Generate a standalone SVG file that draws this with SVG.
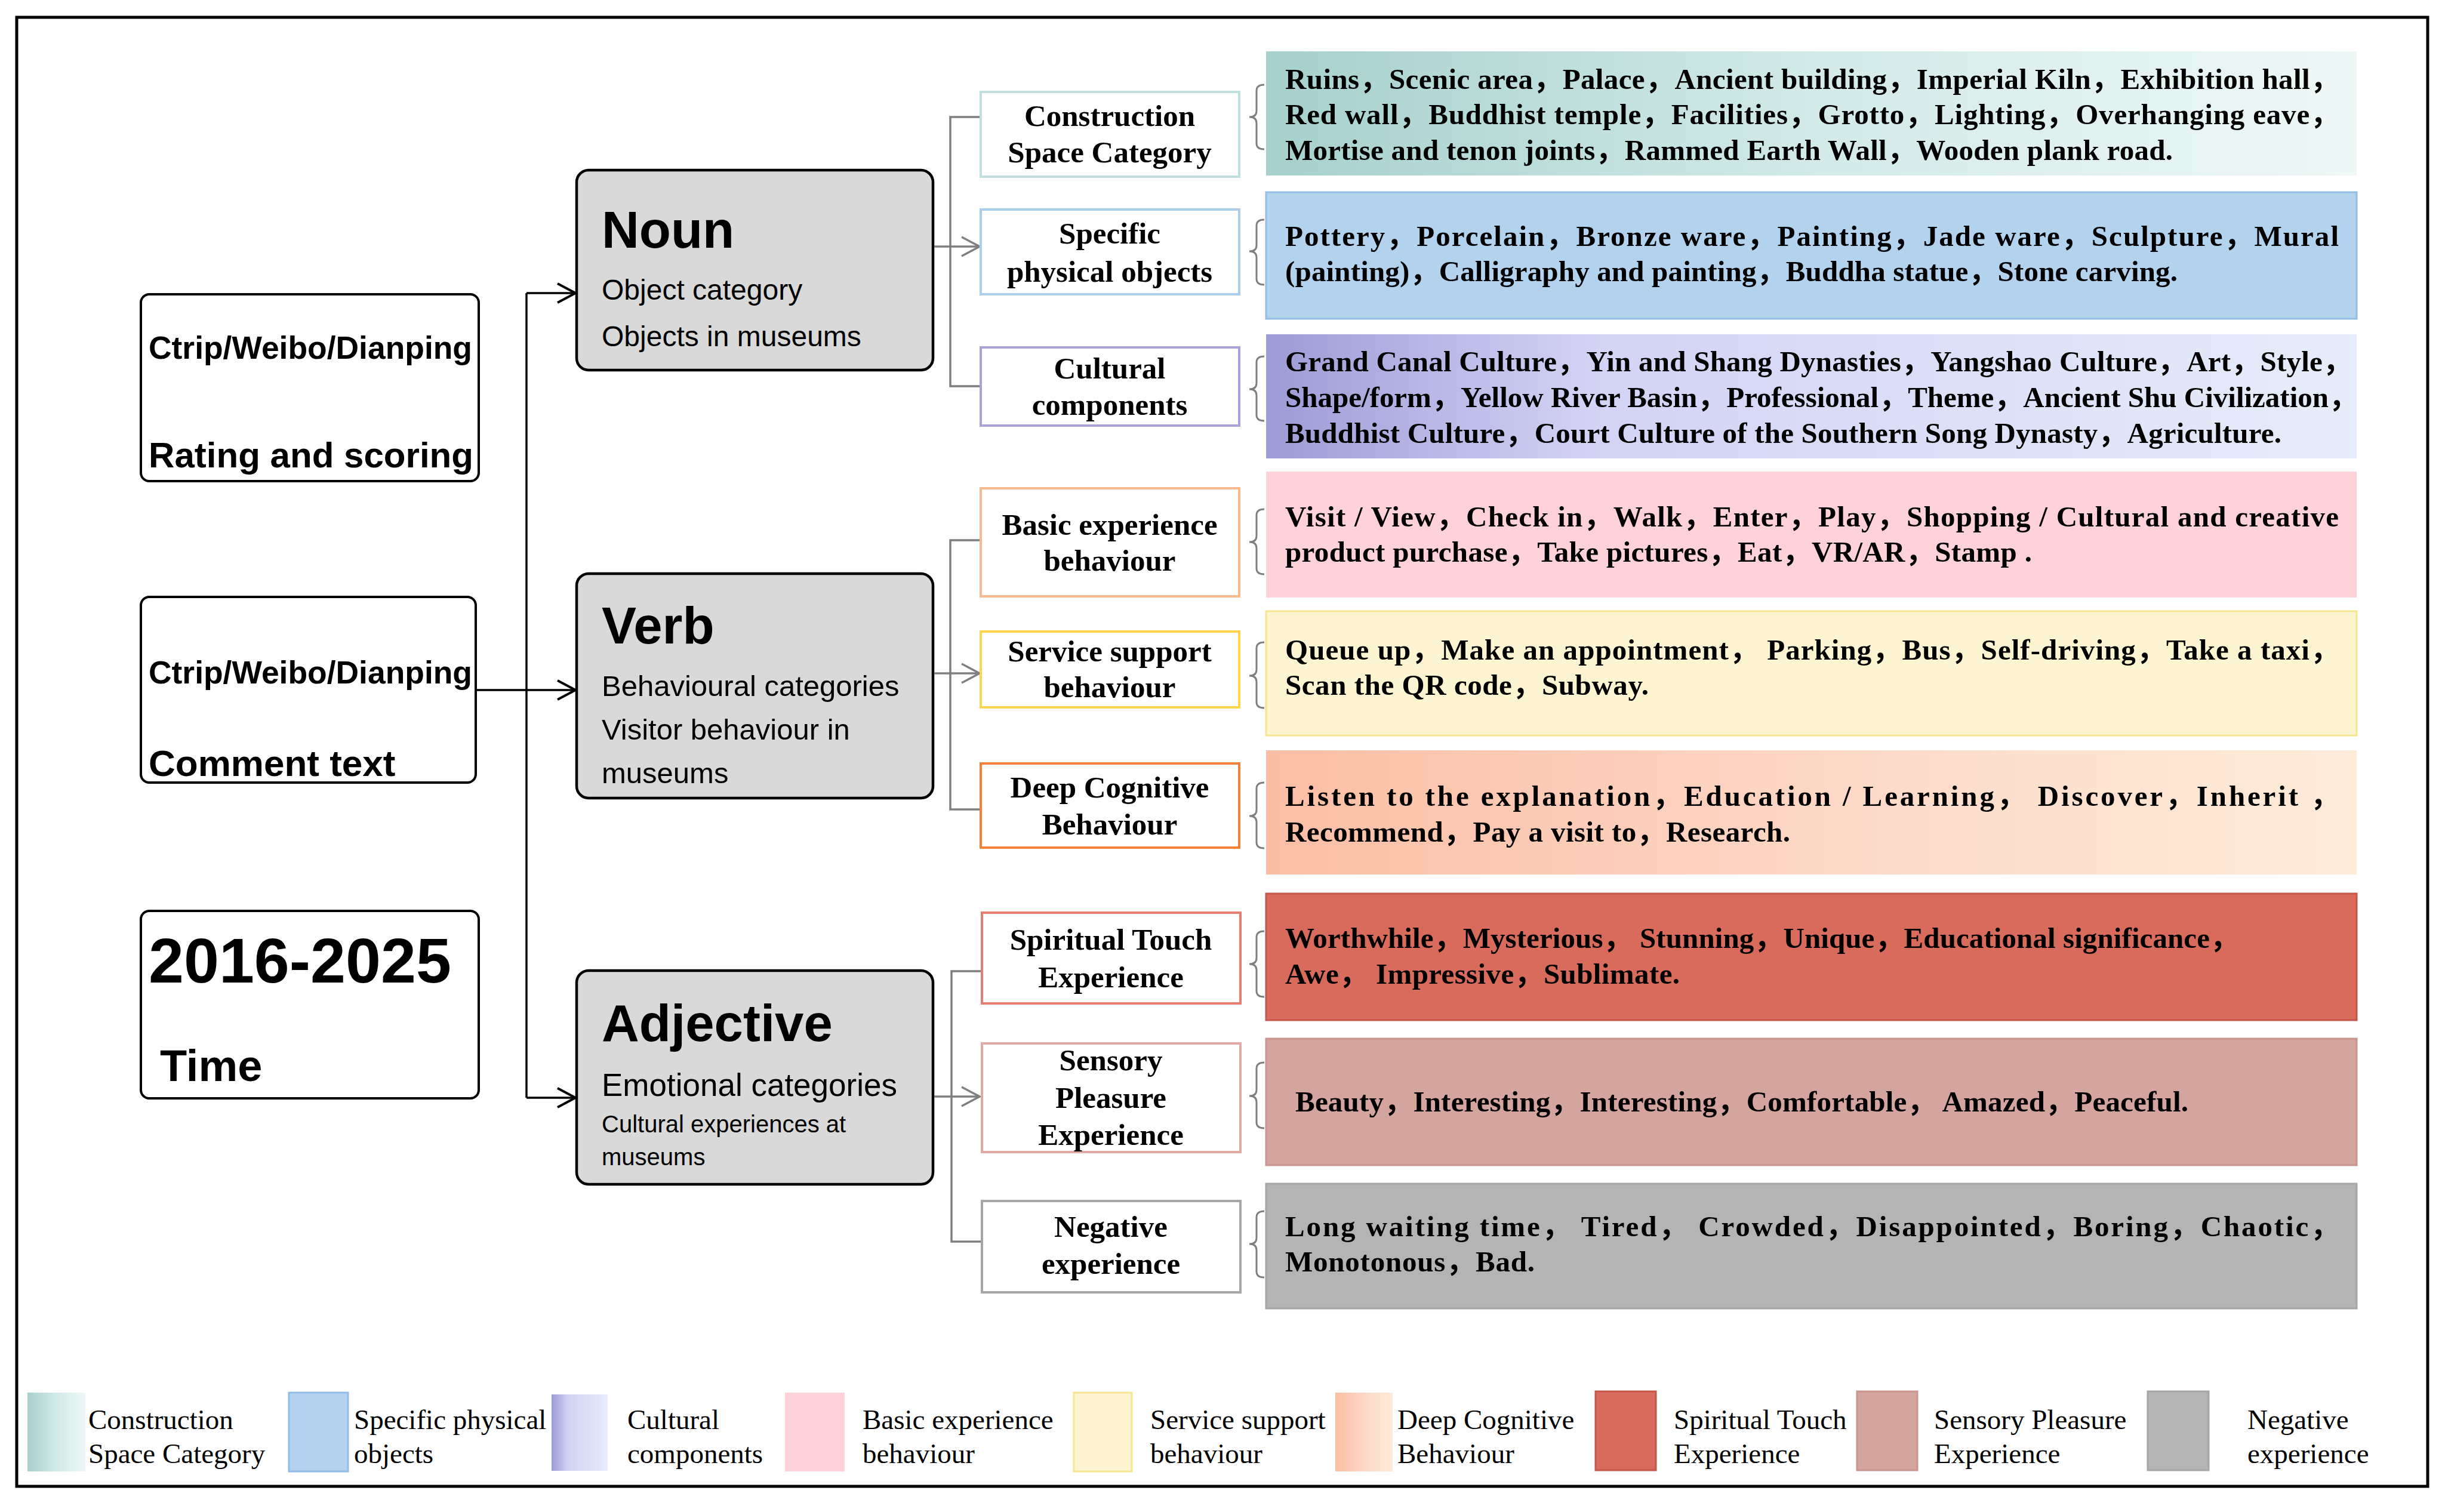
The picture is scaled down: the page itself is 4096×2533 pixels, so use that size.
<svg xmlns="http://www.w3.org/2000/svg" width="4096" height="2533" viewBox="0 0 4096 2533" xml:space="preserve">
<style>
.frame{fill:none;stroke:#000;stroke-width:5}
.src{fill:#fff;stroke:#000;stroke-width:4}
.pos{fill:#d9d9d9;stroke:#000;stroke-width:4.5}
.sb{font-family:"Liberation Sans",Arial,sans-serif;font-weight:bold;fill:#000}
.sr{font-family:"Liberation Sans",Arial,sans-serif;fill:#000}
.br{fill:#fff;stroke-width:4}
.bt{font-family:"Liberation Serif","Times New Roman",serif;font-weight:bold;font-size:51px;text-anchor:middle;fill:#000}
.ct{font-family:"Liberation Serif","Times New Roman","Noto Sans CJK SC",serif;font-weight:bold;font-size:49px;fill:#000}
.lg{font-family:"Liberation Serif","Times New Roman",serif;font-size:47px;fill:#000}
.gc{fill:none;stroke:#7f7f7f;stroke-width:3.5}
.bc{fill:none;stroke:#000;stroke-width:3.5}
.brace{fill:none;stroke:#7f7f7f;stroke-width:3}
</style>
<defs>
<marker id="ab" markerUnits="userSpaceOnUse" markerWidth="34" markerHeight="36" viewBox="0 0 34 36" refX="32" refY="18" orient="auto"><path d="M2,2 L32,18 L2,34" fill="none" stroke="#000" stroke-width="4"/></marker>
<marker id="ag" markerUnits="userSpaceOnUse" markerWidth="34" markerHeight="36" viewBox="0 0 34 36" refX="32" refY="18" orient="auto"><path d="M2,2 L32,18 L2,34" fill="none" stroke="#7f7f7f" stroke-width="3.5"/></marker>
<linearGradient id="gTeal" x1="0" y1="0" x2="1" y2="0"><stop offset="0" stop-color="#a6d0cd"/><stop offset="0.5" stop-color="#d2eae8"/><stop offset="1" stop-color="#eef8f7"/></linearGradient>
<linearGradient id="gPurple" x1="0" y1="0" x2="1" y2="0"><stop offset="0" stop-color="#9d9bd6"/><stop offset="0.3" stop-color="#d3d3f5"/><stop offset="1" stop-color="#e6edf9"/></linearGradient>
<linearGradient id="gPeach" x1="0" y1="0" x2="1" y2="0"><stop offset="0" stop-color="#fbbea5"/><stop offset="0.6" stop-color="#fddccb"/><stop offset="1" stop-color="#feebd9"/></linearGradient>
</defs>
<rect x="0" y="0" width="4096" height="2533" fill="#fff"/>
<rect class="frame" x="28" y="29" width="4039" height="2461"/>

<g id="src-rating">
<rect class="src" x="236" y="493" width="566" height="313" rx="14"/>
<text class="sb" x="249" y="601" font-size="54" textLength="542" lengthAdjust="spacingAndGlyphs">Ctrip/Weibo/Dianping</text>
<text class="sb" x="249" y="783" font-size="60" textLength="544" lengthAdjust="spacingAndGlyphs">Rating and scoring</text>
</g>
<g id="src-comment">
<rect class="src" x="236" y="1000" width="561" height="311" rx="14"/>
<text class="sb" x="249" y="1145" font-size="54" textLength="542" lengthAdjust="spacingAndGlyphs">Ctrip/Weibo/Dianping</text>
<text class="sb" x="249" y="1300" font-size="62">Comment text</text>
</g>
<g id="src-time">
<rect class="src" x="236" y="1526" width="566" height="314" rx="14"/>
<text class="sb" x="249" y="1646" font-size="106">2016-2025</text>
<text class="sb" x="268" y="1811" font-size="74">Time</text>
</g>

<g id="noun">
<rect class="pos" x="966" y="285" width="597" height="335" rx="20"/>
<text class="sb" x="1008" y="415" font-size="87">Noun</text>
<text class="sr" x="1008" y="502" font-size="48">Object category</text>
<text class="sr" x="1008" y="580" font-size="48">Objects in museums</text>
</g>
<g id="verb">
<rect class="pos" x="966" y="961" width="597" height="376" rx="20"/>
<text class="sb" x="1008" y="1078" font-size="87">Verb</text>
<text class="sr" x="1008" y="1166" font-size="49">Behavioural categories</text>
<text class="sr" x="1008" y="1239" font-size="49">Visitor behaviour in</text>
<text class="sr" x="1008" y="1312" font-size="49">museums</text>
</g>
<g id="adjective">
<rect class="pos" x="966" y="1626" width="597" height="358" rx="20"/>
<text class="sb" x="1008" y="1744" font-size="87">Adjective</text>
<text class="sr" x="1008" y="1836" font-size="53">Emotional categories</text>
<text class="sr" x="1008" y="1897" font-size="40">Cultural experiences at</text>
<text class="sr" x="1008" y="1952" font-size="40">museums</text>
</g>

<g id="connectors">
<path class="bc" d="M882,491 L882,1839"/>
<path class="bc" d="M882,491 L964,491" marker-end="url(#ab)"/>
<path class="bc" d="M797,1156 L964,1156" marker-end="url(#ab)"/>
<path class="bc" d="M882,1839 L964,1839" marker-end="url(#ab)"/>
<path class="gc" d="M1643,196 L1592,196 L1592,647 L1643,647"/>
<path class="gc" d="M1565,413 L1641,413" marker-end="url(#ag)"/>
<path class="gc" d="M1643,905 L1592,905 L1592,1356 L1643,1356"/>
<path class="gc" d="M1565,1128 L1641,1128" marker-end="url(#ag)"/>
<path class="gc" d="M1643,1627 L1594,1627 L1594,2080 L1643,2080"/>
<path class="gc" d="M1565,1837 L1641,1837" marker-end="url(#ag)"/>
<path class="brace" d="M2118,142 Q2105,142 2105,152 L2105,186 Q2105,196 2093,196 Q2105,196 2105,206 L2105,240 Q2105,250 2118,250"/>
<path class="brace" d="M2118,368 Q2105,368 2105,378 L2105,411 Q2105,421 2093,421 Q2105,421 2105,431 L2105,467 Q2105,477 2118,477"/>
<path class="brace" d="M2118,597 Q2105,597 2105,607 L2105,642 Q2105,652 2093,652 Q2105,652 2105,662 L2105,695 Q2105,705 2118,705"/>
<path class="brace" d="M2118,853 Q2105,853 2105,863 L2105,898 Q2105,908 2093,908 Q2105,908 2105,918 L2105,952 Q2105,962 2118,962"/>
<path class="brace" d="M2118,1076 Q2105,1076 2105,1086 L2105,1122 Q2105,1132 2093,1132 Q2105,1132 2105,1142 L2105,1176 Q2105,1186 2118,1186"/>
<path class="brace" d="M2118,1311 Q2105,1311 2105,1321 L2105,1357 Q2105,1367 2093,1367 Q2105,1367 2105,1377 L2105,1411 Q2105,1421 2118,1421"/>
<path class="brace" d="M2118,1560 Q2105,1560 2105,1570 L2105,1605 Q2105,1615 2093,1615 Q2105,1615 2105,1625 L2105,1660 Q2105,1670 2118,1670"/>
<path class="brace" d="M2118,1780 Q2105,1780 2105,1790 L2105,1826 Q2105,1836 2093,1836 Q2105,1836 2105,1846 L2105,1880 Q2105,1890 2118,1890"/>
<path class="brace" d="M2118,2029 Q2105,2029 2105,2039 L2105,2074 Q2105,2084 2093,2084 Q2105,2084 2105,2094 L2105,2130 Q2105,2140 2118,2140"/>
</g>

<g id="b-construction">
<rect class="br" x="1643" y="154" width="433" height="142" stroke="#bfe0df"/>
<text class="bt" x="1859" y="211">Construction</text>
<text class="bt" x="1859" y="272">Space Category</text>
</g>
<g id="b-specific">
<rect class="br" x="1643" y="351" width="433" height="142" stroke="#a9cdea"/>
<text class="bt" x="1859" y="408">Specific</text>
<text class="bt" x="1859" y="472">physical objects</text>
</g>
<g id="b-cultural">
<rect class="br" x="1643" y="582" width="433" height="131" stroke="#aaa2d6"/>
<text class="bt" x="1859" y="634">Cultural</text>
<text class="bt" x="1859" y="695">components</text>
</g>
<g id="b-basic">
<rect class="br" x="1643" y="818" width="433" height="181" stroke="#f9b990"/>
<text class="bt" x="1859" y="896">Basic experience</text>
<text class="bt" x="1859" y="956">behaviour</text>
</g>
<g id="b-service">
<rect class="br" x="1643" y="1058" width="433" height="127" stroke="#fdd64e"/>
<text class="bt" x="1859" y="1108">Service support</text>
<text class="bt" x="1859" y="1168">behaviour</text>
</g>
<g id="b-deep">
<rect class="br" x="1643" y="1279" width="433" height="141" stroke="#f4813a"/>
<text class="bt" x="1859" y="1336">Deep Cognitive</text>
<text class="bt" x="1859" y="1398">Behaviour</text>
</g>
<g id="b-spiritual">
<rect class="br" x="1645" y="1529" width="433" height="152" stroke="#e67d70"/>
<text class="bt" x="1861" y="1591">Spiritual Touch</text>
<text class="bt" x="1861" y="1654">Experience</text>
</g>
<g id="b-sensory">
<rect class="br" x="1645" y="1748" width="433" height="182" stroke="#e0aaa5"/>
<text class="bt" x="1861" y="1793">Sensory</text>
<text class="bt" x="1861" y="1856">Pleasure</text>
<text class="bt" x="1861" y="1918">Experience</text>
</g>
<g id="b-negative">
<rect class="br" x="1645" y="2012" width="433" height="153" stroke="#a6a6a6"/>
<text class="bt" x="1861" y="2072">Negative</text>
<text class="bt" x="1861" y="2134">experience</text>
</g>

<g id="c-construction">
<rect x="2121" y="86" width="1827" height="208" fill="url(#gTeal)"/>
<text class="ct" x="2153" y="149" textLength="1766" lengthAdjust="spacing">Ruins，Scenic area，Palace，Ancient building，Imperial Kiln，Exhibition hall，</text>
<text class="ct" x="2153" y="208" textLength="1766" lengthAdjust="spacing">Red wall，Buddhist temple，Facilities，Grotto，Lighting，Overhanging eave，</text>
<text class="ct" x="2153" y="268" textLength="1487" lengthAdjust="spacing">Mortise and tenon joints，Rammed Earth Wall，Wooden plank road.</text>
</g>
<g id="c-specific">
<rect x="2121" y="322" width="1827" height="212" fill="#b3d2ee" stroke="#93bde4" stroke-width="3"/>
<text class="ct" x="2153" y="412" textLength="1765" lengthAdjust="spacing">Pottery，Porcelain，Bronze ware，Painting，Jade ware，Sculpture，Mural</text>
<text class="ct" x="2153" y="471" textLength="1495" lengthAdjust="spacing">(painting)，Calligraphy and painting，Buddha statue，Stone carving.</text>
</g>
<g id="c-cultural">
<rect x="2121" y="560" width="1827" height="208" fill="url(#gPurple)"/>
<text class="ct" x="2153" y="622" textLength="1787" lengthAdjust="spacing">Grand Canal Culture，Yin and Shang Dynasties，Yangshao Culture，Art，Style，</text>
<text class="ct" x="2153" y="682" textLength="1797" lengthAdjust="spacing">Shape/form，Yellow River Basin，Professional，Theme，Ancient Shu Civilization，</text>
<text class="ct" x="2153" y="742" textLength="1669" lengthAdjust="spacing">Buddhist Culture，Court Culture of the Southern Song Dynasty，Agriculture.</text>
</g>
<g id="c-basic">
<rect x="2121" y="790" width="1827" height="211" fill="#ffd2da"/>
<text class="ct" x="2153" y="882" textLength="1765" lengthAdjust="spacing">Visit / View，Check in，Walk，Enter，Play，Shopping / Cultural and creative</text>
<text class="ct" x="2153" y="941" textLength="1251" lengthAdjust="spacing">product purchase，Take pictures，Eat，VR/AR，Stamp .</text>
</g>
<g id="c-service">
<rect x="2121" y="1024" width="1827" height="208" fill="#fdf4d2" stroke="#f6e48e" stroke-width="3"/>
<text class="ct" x="2153" y="1105" textLength="1766" lengthAdjust="spacing">Queue up，Make an appointment，  Parking，Bus，Self-driving，Take a taxi，</text>
<text class="ct" x="2153" y="1164" textLength="609" lengthAdjust="spacing">Scan the QR code，Subway.</text>
</g>
<g id="c-deep">
<rect x="2121" y="1257" width="1827" height="208" fill="url(#gPeach)"/>
<text class="ct" x="2153" y="1350" textLength="1766" lengthAdjust="spacing">Listen to the explanation，Education / Learning，  Discover，Inherit ，</text>
<text class="ct" x="2153" y="1410" textLength="846" lengthAdjust="spacing">Recommend，Pay a visit to，Research.</text>
</g>
<g id="c-spiritual">
<rect x="2121" y="1497" width="1827" height="212" fill="#d96b5c" stroke="#c7564a" stroke-width="3"/>
<text class="ct" x="2153" y="1588" textLength="1598" lengthAdjust="spacing">Worthwhile，Mysterious，  Stunning，Unique，Educational significance，</text>
<text class="ct" x="2153" y="1648" textLength="661" lengthAdjust="spacing">Awe，  Impressive，Sublimate.</text>
</g>
<g id="c-sensory">
<rect x="2121" y="1740" width="1827" height="212" fill="#d4a49e" stroke="#c8968f" stroke-width="3"/>
<text class="ct" x="2170" y="1862" textLength="1496" lengthAdjust="spacing">Beauty，Interesting，Interesting，Comfortable，  Amazed，Peaceful.</text>
</g>
<g id="c-negative">
<rect x="2121" y="1983" width="1827" height="209" fill="#b4b4b4" stroke="#a6a6a6" stroke-width="3"/>
<text class="ct" x="2153" y="2071" textLength="1766" lengthAdjust="spacing">Long waiting time，  Tired，  Crowded，Disappointed，Boring，Chaotic，</text>
<text class="ct" x="2153" y="2130" textLength="418" lengthAdjust="spacing">Monotonous，Bad.</text>
</g>

<g id="legend">
<rect x="46" y="2333" width="97" height="132" fill="url(#gTeal)"/>
<text class="lg" x="148" y="2394">Construction</text>
<text class="lg" x="148" y="2451">Space Category</text>
<rect x="484" y="2333" width="99" height="132" fill="#b3d2ee" stroke="#93bde4" stroke-width="3"/>
<text class="lg" x="593" y="2394">Specific physical</text>
<text class="lg" x="593" y="2451">objects</text>
<rect x="924" y="2336" width="94" height="128" fill="url(#gPurple)"/>
<text class="lg" x="1051" y="2394">Cultural</text>
<text class="lg" x="1051" y="2451">components</text>
<rect x="1315" y="2333" width="100" height="132" fill="#ffd2da"/>
<text class="lg" x="1445" y="2394">Basic experience</text>
<text class="lg" x="1445" y="2451">behaviour</text>
<rect x="1799" y="2333" width="97" height="132" fill="#fdf4d2" stroke="#f6e48e" stroke-width="3"/>
<text class="lg" x="1927" y="2394">Service support</text>
<text class="lg" x="1927" y="2451">behaviour</text>
<rect x="2237" y="2333" width="96" height="132" fill="url(#gPeach)"/>
<text class="lg" x="2341" y="2394">Deep Cognitive</text>
<text class="lg" x="2341" y="2451">Behaviour</text>
<rect x="2673" y="2331" width="101" height="132" fill="#d96b5c" stroke="#c7564a" stroke-width="3"/>
<text class="lg" x="2804" y="2394">Spiritual Touch</text>
<text class="lg" x="2804" y="2451">Experience</text>
<rect x="3111" y="2331" width="101" height="132" fill="#d4a49e" stroke="#c8968f" stroke-width="3"/>
<text class="lg" x="3240" y="2394">Sensory Pleasure</text>
<text class="lg" x="3240" y="2451">Experience</text>
<rect x="3598" y="2331" width="102" height="132" fill="#b4b4b4" stroke="#a6a6a6" stroke-width="3"/>
<text class="lg" x="3765" y="2394">Negative</text>
<text class="lg" x="3765" y="2451">experience</text>
</g>
</svg>
